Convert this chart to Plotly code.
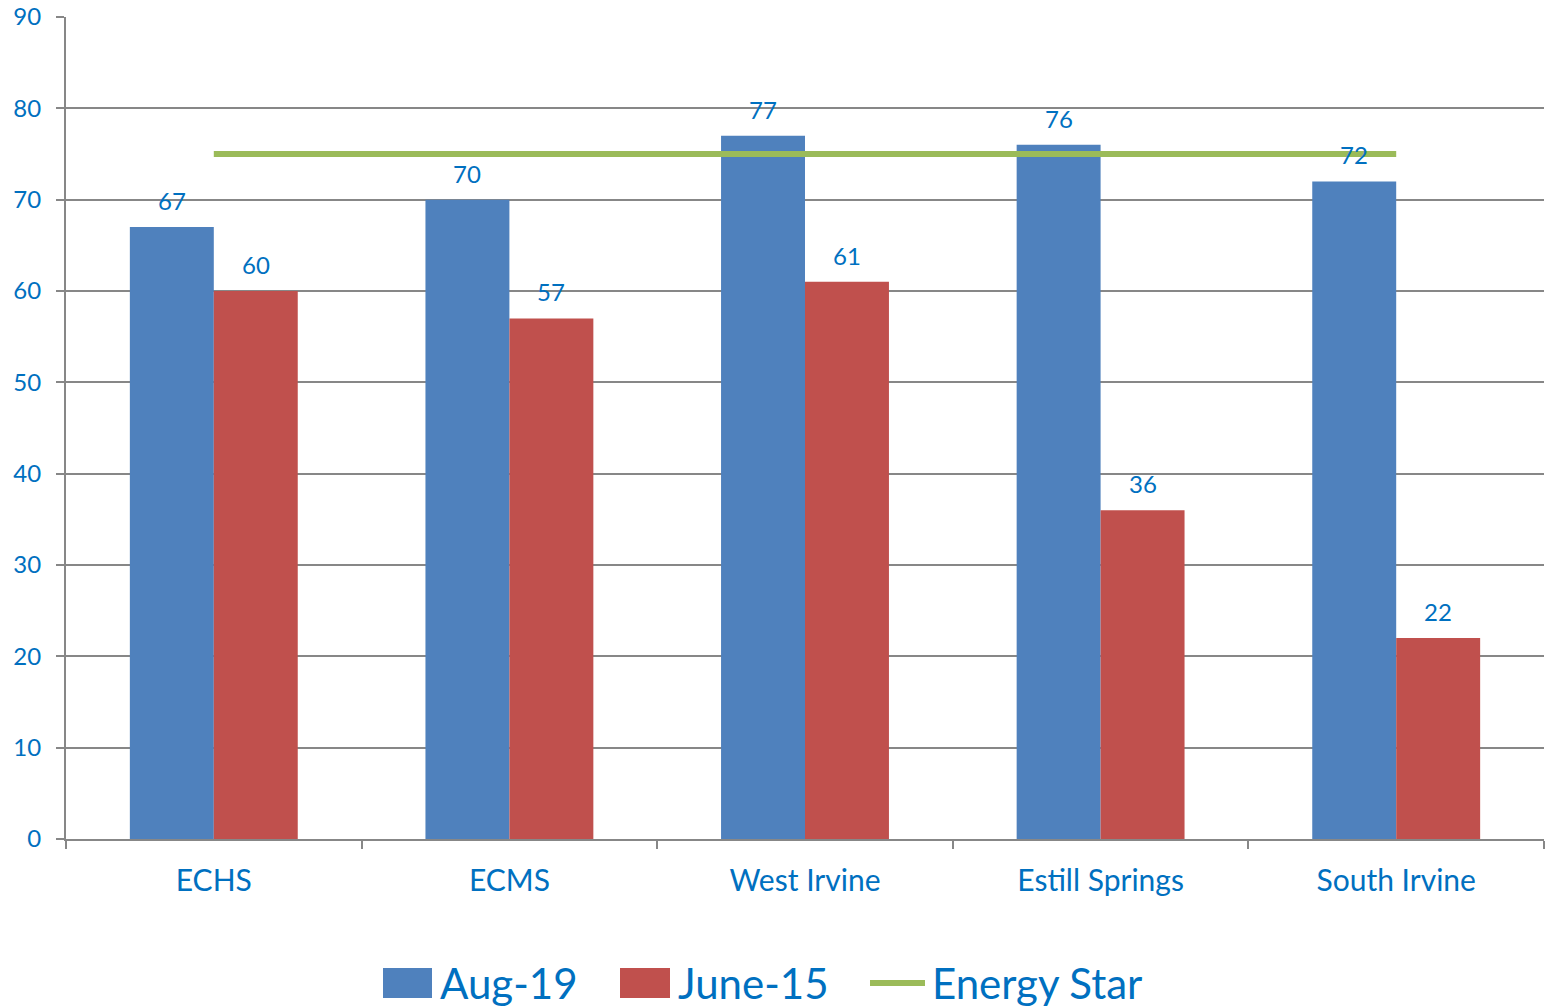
import plotly.graph_objects as go

categories = ["ECHS", "ECMS", "West Irvine", "Estill Springs", "South Irvine"]
aug19 = [67, 70, 77, 76, 72]
june15 = [60, 57, 61, 36, 22]
energy_star = [75, 75, 75, 75, 75]
series_names = ["Aug-19", "June-15", "Energy Star"]
y_ticks = [0, 10, 20, 30, 40, 50, 60, 70, 80, 90]

BLUE = "#4F81BD"
RED = "#C0504D"
GREEN = "#9BBB59"
TXT = "#0070C0"
GRID = "#878787"
FONT = "Lato"

W, H = 1546, 1007
L, R, T, B = 66, 2, 17, 168

def px_x(px):
    return (px - L) / (W - L - R)

def px_y(py):
    return (H - B - py) / (H - T - B)

fig = go.Figure()
fig.add_trace(go.Bar(x=categories, y=aug19, name=series_names[0], marker_color=BLUE,
                     marker_line_width=0))
fig.add_trace(go.Bar(x=categories, y=june15, name=series_names[1], marker_color=RED,
                     marker_line_width=0))
fig.add_trace(go.Scatter(x=categories, y=energy_star, name=series_names[2], mode="lines",
                         line=dict(color=GREEN, width=6)))

annotations = []
for cat, a, j in zip(categories, aug19, june15):
    annotations.append(dict(x=cat, y=a, xref="x", yref="y", text=str(a), showarrow=False,
                            xshift=-42, yshift=10, yanchor="bottom",
                            font=dict(family=FONT, size=24, color=TXT)))
    annotations.append(dict(x=cat, y=j, xref="x", yref="y", text=str(j), showarrow=False,
                            xshift=42, yshift=10, yanchor="bottom",
                            font=dict(family=FONT, size=24, color=TXT)))

# custom legend (large swatches like the original)
shapes = []
leg_y = 983
items = [
    ("rect", BLUE, 383, 432, 438, series_names[0]),
    ("rect", RED, 620, 670, 676, series_names[1]),
    ("line", GREEN, 870, 925, 930, series_names[2]),
]
for kind, col, x0, x1, tx, name in items:
    if kind == "rect":
        shapes.append(dict(type="rect", xref="paper", yref="paper",
                           x0=px_x(x0), x1=px_x(x1), y0=px_y(leg_y + 15), y1=px_y(leg_y - 15),
                           fillcolor=col, line=dict(width=0)))
    else:
        shapes.append(dict(type="line", xref="paper", yref="paper",
                           x0=px_x(x0), x1=px_x(x1), y0=px_y(leg_y), y1=px_y(leg_y),
                           line=dict(color=col, width=6)))
    annotations.append(dict(x=px_x(tx), y=px_y(leg_y), xref="paper", yref="paper",
                            text=name, showarrow=False, xanchor="left", yanchor="middle",
                            font=dict(family=FONT, size=42, color=TXT)))

fig.update_layout(
    width=W, height=H,
    margin=dict(l=L, r=R, t=T, b=B, pad=0),
    paper_bgcolor="white", plot_bgcolor="white",
    barmode="group", bargap=0.432, bargroupgap=0,
    showlegend=False,
    annotations=annotations,
    shapes=shapes,
    font=dict(family=FONT, color=TXT),
)
fig.update_yaxes(range=[0, 90], tickvals=y_ticks, showgrid=True, gridcolor=GRID, gridwidth=2,
                 showline=True, linecolor=GRID, linewidth=2, ticks="outside", ticklen=8,
                 tickwidth=2, tickcolor=GRID, zeroline=False,
                 tickfont=dict(family=FONT, size=24, color=TXT), ticklabelstandoff=10)
fig.update_xaxes(showline=True, linecolor=GRID, linewidth=2, ticks="outside", ticklen=8,
                 tickwidth=2, tickcolor=GRID, tickson="boundaries", showgrid=False,
                 tickfont=dict(family=FONT, size=30, color=TXT), ticklabelstandoff=14)

fig.write_html("out.html", config={"displayModeBar": False},
               post_script="document.body.style.margin='0';document.body.style.overflow='hidden';")
